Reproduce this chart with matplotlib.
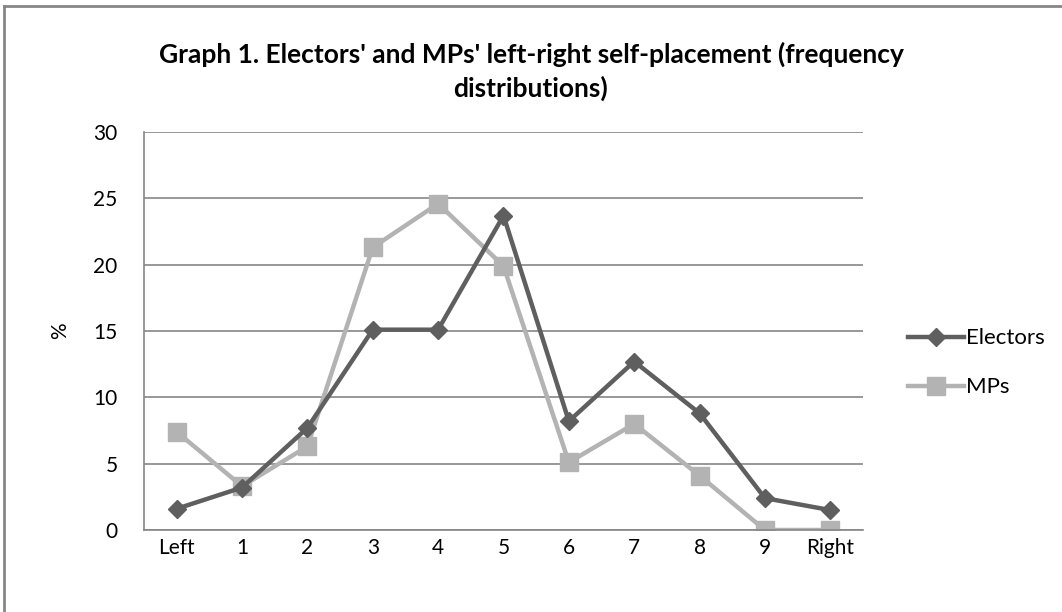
import matplotlib
matplotlib.use("Agg")
import matplotlib.pyplot as plt
from matplotlib.lines import Line2D

categories = ["Left", "1", "2", "3", "4", "5", "6", "7", "8", "9", "Right"]
electors = [1.6, 3.2, 7.7, 15.1, 15.1, 23.7, 8.2, 12.7, 8.8, 2.4, 1.5]
mps = [7.4, 3.3, 6.3, 21.3, 24.6, 19.9, 5.1, 8.0, 4.1, 0.0, 0.0]
yticks = [0, 5, 10, 15, 20, 25, 30]

plt.rcParams['font.family'] = ['Lato', 'DejaVu Sans']

fig = plt.figure(figsize=(10.62, 6.12), dpi=100)
ax = fig.add_axes([0.1356, 0.134, 0.677, 0.6503])

x = list(range(len(categories)))
ax.plot(x, electors, color="#5f5f5f", lw=3.2, marker="D", ms=9.5, label="Electors", zorder=3)
ax.plot(x, mps, color="#b3b3b3", lw=3.2, marker="s", ms=13.5, label="MPs", zorder=2)

ax.set_xlim(-0.5, len(categories) - 0.5)
ax.set_ylim(0, 30)
ax.set_yticks(yticks)
ax.set_xticks(x)
ax.set_xticklabels(categories)
ax.yaxis.grid(True, color="#868686", lw=1.2)
ax.set_axisbelow(True)
for s in ["top", "right"]:
    ax.spines[s].set_visible(False)
for s in ["left", "bottom"]:
    ax.spines[s].set_color("#868686")
    ax.spines[s].set_linewidth(1.2)
ax.tick_params(axis="both", length=0, labelsize=15, colors="#000000")
ax.tick_params(axis="y", pad=19)
ax.tick_params(axis="x", pad=6)
ax.set_ylabel("%", fontsize=15, labelpad=17)

fig.text(0.5, 0.883, "Graph 1. Electors' and MPs' left-right self-placement (frequency\ndistributions)",
         ha="center", va="center", fontsize=19, fontweight="bold", linespacing=1.4)

leg = ax.legend(loc="center left", bbox_to_anchor=(1.035, 0.42), frameon=False,
                fontsize=16, handlelength=2.5, labelspacing=1.3, handletextpad=0.1)

# outer frame (top and left edges)
fig.add_artist(Line2D([0.004, 0.004], [0.0, 0.99], transform=fig.transFigure, color="#868686", lw=2))
fig.add_artist(Line2D([0.004, 1.0], [0.99, 0.99], transform=fig.transFigure, color="#868686", lw=2))

fig.savefig("out.png", dpi=100)
